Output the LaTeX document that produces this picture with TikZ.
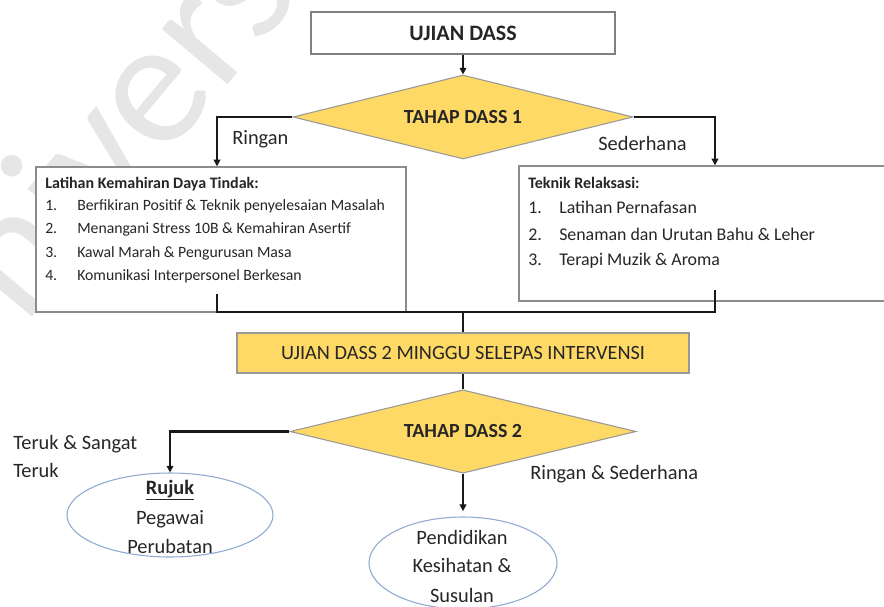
\documentclass[tikz,border=0pt]{standalone}
\usepackage{fontspec}
\setmainfont{Carlito}
\usetikzlibrary{arrows.meta,shapes.geometric,calc}
\definecolor{gold}{HTML}{FFD966}
\definecolor{inktext}{HTML}{262626}
\definecolor{boxline}{HTML}{8C8C8C}
\definecolor{ovalline}{HTML}{8FAAD0}
\definecolor{markgray}{HTML}{E6E6E6}
\begin{document}
\begin{tikzpicture}[x=0.75pt,y=-0.75pt,
  conn/.style={line width=1.8pt, draw=black!90},
  arr/.style={conn,-{Triangle[length=5pt,width=5pt]}},
  plainbox/.style={draw=boxline, line width=1pt, fill=white, inner sep=0},
  decision/.style={diamond, shape aspect=4, draw=black!40, line width=0.8pt, fill=gold, inner sep=0,
    font=\bfseries\fontsize{15}{18}\selectfont, text=inktext},
  oval/.style={ellipse, draw=ovalline, line width=0.8pt, fill=white, inner sep=0},
  lbl/.style={font=\fontsize{15.3}{18}\selectfont, text=inktext, inner sep=0},
  lhead/.style={font=\bfseries\fontsize{12}{14}\selectfont, text=inktext, inner sep=0, anchor=base west},
  litem/.style={font=\fontsize{11.8}{14}\selectfont, text=inktext, inner sep=0, anchor=base west},
  rhead/.style={font=\bfseries\fontsize{12}{14}\selectfont, text=inktext, inner sep=0, anchor=base west},
  ritem/.style={font=\fontsize{13.4}{16}\selectfont, text=inktext, inner sep=0, anchor=base west},
]
\useasboundingbox (0,0) rectangle (884,606);
\clip (0,0) rectangle (884,606);

% faint watermark
\node[text=markgray, font=\fontsize{135}{145}\selectfont, rotate=50, inner sep=0] (wm) at (80,165) {Univers};

% top of the chart
\node[plainbox, draw=black!50, minimum width=228pt, minimum height=31.5pt,
      font=\bfseries\fontsize{16.5}{20}\selectfont, text=inktext] (start) at (463,33) {UJIAN DASS};
\node[decision, minimum width=255pt, minimum height=63pt] (d1) at (463,117) {TAHAP DASS 1};

% intervention boxes
\node[plainbox, minimum width=277.5pt, minimum height=108.75pt] (lbox) at (221,239.5) {};
\node[plainbox, minimum width=294pt, minimum height=101.25pt] (rbox) at (715,233.5) {};

\node[lhead] (l0) at (45,188) {Latihan Kemahiran Daya Tindak:};
\node[litem] (l1) at (45,210) {\makebox[24pt][l]{1.}Berfikiran Positif \& Teknik penyelesaian Masalah};
\node[litem] (l2) at (45,233) {\makebox[24pt][l]{2.}Menangani Stress 10B \& Kemahiran Asertif};
\node[litem] (l3) at (45,257) {\makebox[24pt][l]{3.}Kawal Marah \& Pengurusan Masa};
\node[litem] (l4) at (45,280) {\makebox[24pt][l]{4.}Komunikasi Interpersonel Berkesan};

\node[rhead] (r0) at (528,188) {Teknik Relaksasi:};
\node[ritem] (r1) at (528,213) {\makebox[23.25pt][l]{1.}Latihan Pernafasan};
\node[ritem] (r2) at (528,240) {\makebox[23.25pt][l]{2.}Senaman dan Urutan Bahu \& Leher};
\node[ritem] (r3) at (528,265) {\makebox[23.25pt][l]{3.}Terapi Muzik \& Aroma};

% second test
\node[draw=black!40, line width=0.8pt, fill=gold, inner sep=0, minimum width=339pt, minimum height=30pt,
      font=\fontsize{15.2}{18}\selectfont, text=inktext] (retest) at (463,353) {UJIAN DASS 2 MINGGU SELEPAS INTERVENSI};
\node[decision, minimum width=259.5pt, minimum height=62.5pt] (d2) at (463,431.5) {TAHAP DASS 2};

% outcomes
\node[oval, minimum width=154.5pt, minimum height=63pt] (e1) at (170,515) {};
\node[oval, minimum width=141pt, minimum height=69pt] (e2) at (463,563) {};
\node[lbl, anchor=base, font=\bfseries\fontsize{15.3}{18}\selectfont] (e1a) at (170,494) {\underline{Rujuk}};
\node[lbl, anchor=base] (e1b) at (170,524) {Pegawai};
\node[lbl, anchor=base] (e1c) at (170,553) {Perubatan};
\node[lbl, anchor=base] (e2a) at (462,544) {Pendidikan};
\node[lbl, anchor=base] (e2b) at (462,572) {Kesihatan \&};
\node[lbl, anchor=base] (e2c) at (462,602) {Susulan};

% branch labels
\node[lbl, anchor=base west] (tRingan) at (232,145) {Ringan};
\node[lbl, anchor=base west] (tSederhana) at (598,151) {Sederhana};
\node[lbl, anchor=base west] (tTeruk) at (13,449) {Teruk \& Sangat};
\node[lbl, anchor=base west] (tTeruk2) at (13,477) {Teruk};
\node[lbl, anchor=base west] (tRS) at (530,479) {Ringan \& Sederhana};

% connectors
\draw[arr] (start) -- (d1);
\draw[arr] (d1.west) -| ([xshift=-3pt]lbox.north);
\draw[arr] (d1.east) -| (rbox.north);
\coordinate (jn) at (463,312);
\draw[conn] ([xshift=-3pt,yshift=14pt]lbox.south) |- (jn);
\draw[conn] ([yshift=8.5pt]rbox.south) |- (jn);
\draw[conn] (jn) -- (retest.north);
\draw[conn] (retest.south) -- (d2.north);
\draw[arr] (d2.west) -| (e1.north);
\draw[arr, shorten >=4pt] (d2.south) -- (e2.north);
\end{tikzpicture}
\end{document}
